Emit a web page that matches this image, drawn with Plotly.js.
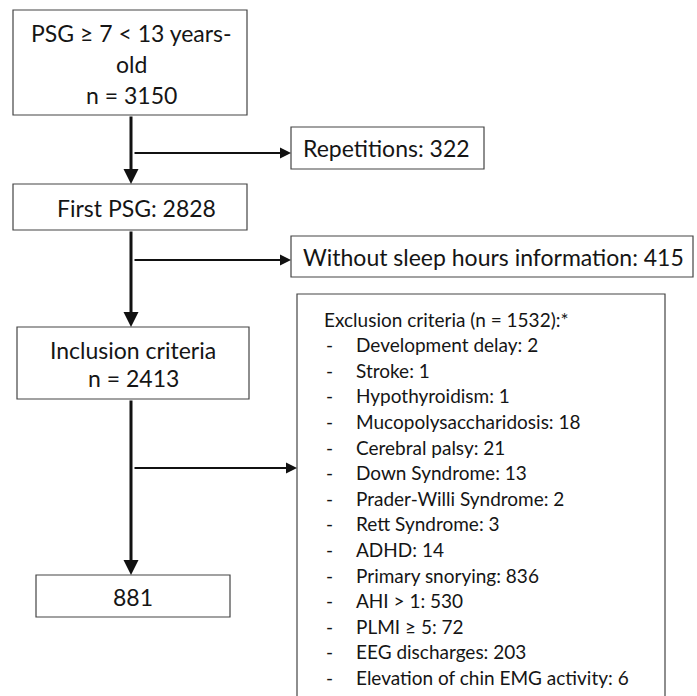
<!DOCTYPE html>
<html>
<head>
<meta charset="utf-8">
<script src="https://cdn.plot.ly/plotly-3.0.1.min.js"></script>
<style>html,body{margin:0;padding:0;background:#fff;}#chart{width:697px;height:696px;}</style>
</head>
<body>
<div id="chart"></div>
<script>
// ---- data (flow counts and labels) ----
var stepLabels = ["PSG \u2265 7 < 13 years-|old|n = 3150", "First PSG: 2828", "Inclusion criteria|n = 2413", "881"];
var removedLabels = ["Repetitions: 322", "Without sleep hours information: 415"];
var exclusionTitle = "Exclusion criteria (n = 1532):*";
var exclusionItems = ["Development delay", "Stroke", "Hypothyroidism", "Mucopolysaccharidosis",
  "Cerebral palsy", "Down Syndrome", "Prader-Willi Syndrome", "Rett Syndrome", "ADHD",
  "Primary snorying", "AHI > 1", "PLMI \u2265 5", "EEG discharges", "Elevation of chin EMG activity"];
var exclusionCounts = [2, 1, 1, 18, 21, 13, 2, 3, 14, 836, 530, 72, 203, 6];

// ---- layout geometry (pixels) ----
var stepBoxes = [
  {x0: 13, x1: 247, y0: 10, y1: 115, cx: 131, lines: [33, 64, 95]},
  {x0: 13, x1: 247, y0: 184, y1: 230, cx: 136, lines: [208]},
  {x0: 17, x1: 249, y0: 327, y1: 399, cx: 133, lines: [350, 378]},
  {x0: 36, x1: 230, y0: 575, y1: 617, cx: 133, lines: [597]}
];
var sideBoxes = [
  {x0: 291, x1: 484, y0: 127, y1: 169, tx: 301, ty: 148, arrowY: 153},
  {x0: 291, x1: 693, y0: 236, y1: 277, tx: 301, ty: 257, arrowY: 260}
];
var exBox = {x0: 297, x1: 665, y0: 294, y1: 720, tx: 322, dashX: 324, itemX: 354, y: 319, dy: 25.6, arrowY: 468};
var spineX = 131;

var lineCol = "#111";
var boxCol = "#444";
var txtCol = "#151515";
var FONT = "Lato, 'Open Sans', sans-serif";
var MAIN = 23, SMALL = 19;

var shapes = [];
var annotations = [];

function box(b) {
  shapes.push({type: "rect", xref: "x", yref: "y", x0: b.x0, x1: b.x1, y0: b.y0, y1: b.y1,
    line: {color: boxCol, width: 1.2}, fillcolor: "rgba(0,0,0,0)"});
}
function txt(x, y, t, size, anchor) {
  annotations.push({xref: "x", yref: "y", x: x, y: y, text: t, showarrow: false,
    xanchor: anchor || "center", yanchor: "middle", font: {family: FONT, size: size, color: txtCol}});
}
function arrow(x0, y0, x1, y1, w, size) {
  annotations.push({xref: "x", yref: "y", axref: "x", ayref: "y", x: x1, y: y1, ax: x0, ay: y0,
    text: "", showarrow: true, arrowhead: 2, arrowsize: size, arrowwidth: w, arrowcolor: lineCol,
    standoff: 0, startstandoff: 0});
}

// main steps
stepBoxes.forEach(function (b, i) {
  box(b);
  var parts = stepLabels[i].split("|");
  parts.forEach(function (p, k) { txt(b.cx, b.lines[k], p, MAIN); });
});
// vertical arrows between steps
for (var i = 0; i < stepBoxes.length - 1; i++) {
  arrow(spineX, stepBoxes[i].y1, spineX, stepBoxes[i + 1].y0, 3, 1);
}
// side boxes
sideBoxes.forEach(function (b, i) {
  box(b);
  txt(b.tx, b.ty, removedLabels[i], MAIN, "left");
  arrow(spineX + 2, b.arrowY, b.x0, b.arrowY, 2, 1.1);
});
// exclusion box
box(exBox);
arrow(spineX + 2, exBox.arrowY, exBox.x0, exBox.arrowY, 2, 1.1);
txt(exBox.tx, exBox.y, exclusionTitle, SMALL, "left");
exclusionItems.forEach(function (it, k) {
  var y = exBox.y + exBox.dy * (k + 1);
  txt(exBox.dashX, y, "-", SMALL, "left");
  txt(exBox.itemX, y, it + ": " + exclusionCounts[k], SMALL, "left");
});

var layout = {
  width: 697, height: 696,
  margin: {l: 0, r: 0, t: 0, b: 0},
  paper_bgcolor: "#fff", plot_bgcolor: "#fff",
  xaxis: {range: [0, 697], visible: false, fixedrange: true},
  yaxis: {range: [696, 0], visible: false, fixedrange: true},
  showlegend: false,
  shapes: shapes,
  annotations: annotations
};
Plotly.newPlot("chart", [{x: [], y: [], type: "scatter", mode: "markers"}], layout, {staticPlot: true});
</script>
</body>
</html>
